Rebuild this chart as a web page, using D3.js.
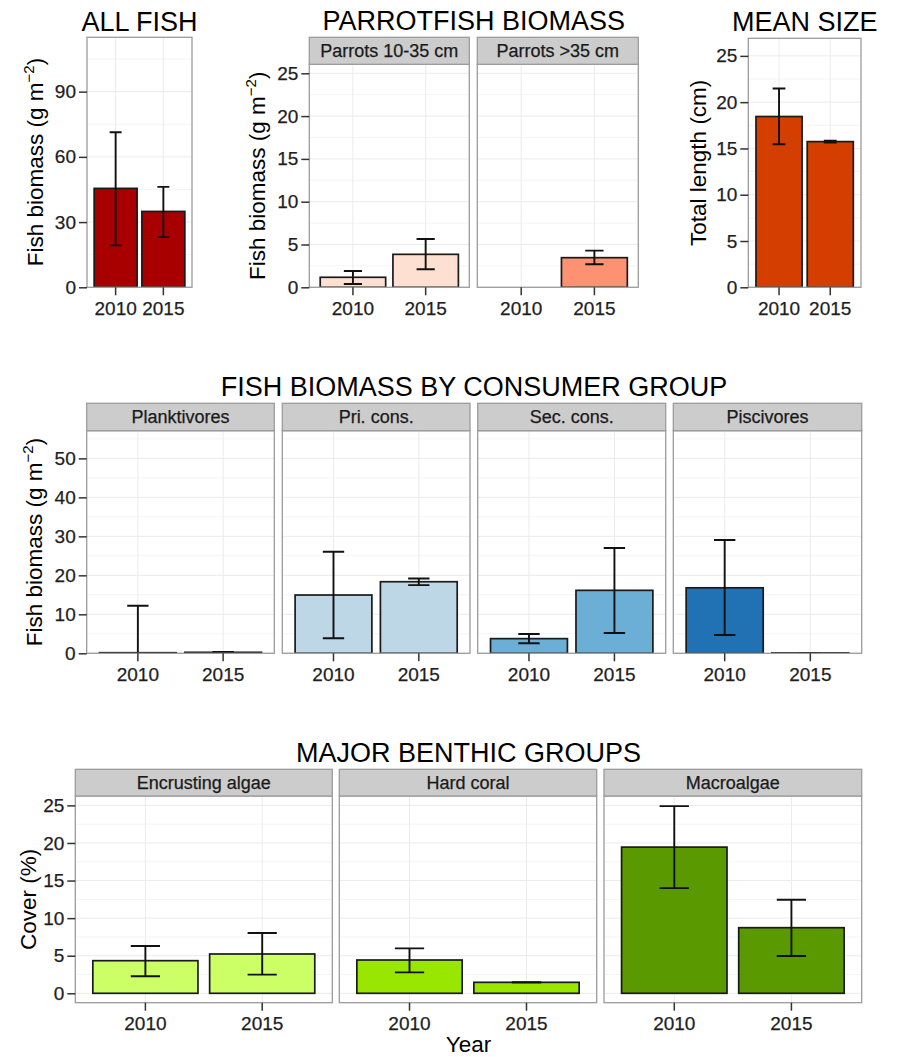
<!DOCTYPE html>
<html>
<head>
<meta charset="utf-8">
<script src="https://cdn.jsdelivr.net/npm/d3@7/dist/d3.min.js"></script>
<style>
  html, body { margin: 0; padding: 0; background: #ffffff; }
  svg { display: block; font-family: "Liberation Sans", Arial, Helvetica, sans-serif; }
</style>
</head>
<body>
<svg id="chart" width="897" height="1057"></svg>
<script>
// ---------------- DATA ----------------
const years = ["2010", "2015"];

// ALL FISH (g m-2)
const allFishMean = [45.5, 34.9];
const allFishLow  = [19.3, 23.1];
const allFishHigh = [71.3, 46.2];

// PARROTFISH BIOMASS
const parrotGroups = ["Parrots 10-35 cm", "Parrots >35 cm"];
const parrotMean = [[1.17, 3.85], [0, 3.46]];
const parrotLow  = [[0.39, 2.1], [0, 2.69]];
const parrotHigh = [[1.9, 5.64], [0, 4.28]];

// MEAN SIZE (cm)
const sizeMean = [18.45, 15.74];
const sizeLow  = [15.46, 15.63];
const sizeHigh = [21.47, 15.85];

// FISH BIOMASS BY CONSUMER GROUP
const consumerGroups = ["Planktivores", "Pri. cons.", "Sec. cons.", "Piscivores"];
const consumerMean = [[0.15, 0.25], [14.95, 18.36], [3.76, 16.15], [16.8, 0.1]];
const consumerLow  = [[-11.9, 0.15], [3.85, 17.5], [2.56, 5.2], [4.7, 0.1]];
const consumerHigh = [[12.2, 0.35], [26.05, 19.2], [4.96, 27.0], [29.05, 0.1]];

// MAJOR BENTHIC GROUPS (% cover)
const benthicGroups = ["Encrusting algae", "Hard coral", "Macroalgae"];
const benthicMean = [[4.34, 5.23], [4.43, 1.46], [19.45, 8.73]];
const benthicLow  = [[2.26, 2.48], [2.79, 1.46], [14.0, 4.96]];
const benthicHigh = [[6.29, 8.02], [5.98, 1.46], [24.9, 12.45]];

// tick labels
const allFishTicks = [0, 30, 60, 90];
const parrotTicks = [0, 5, 10, 15, 20, 25];
const sizeTicks = [0, 5, 10, 15, 20, 25];
const consumerTicks = [0, 10, 20, 30, 40, 50];
const benthicTicks = [0, 5, 10, 15, 20, 25];

// colours
const allFishColor = "#A80000";
const parrotColors = ["#FEE0D2", "#FC9272"];
const sizeColor = "#D43F00";
const consumerColors = ["#EFF3FF", "#BDD7E7", "#6BAED6", "#2171B5"];
const benthicColors = ["#CCFF66", "#99E600", "#5A9900"];

// ---------------- DRAWING ----------------
const svg = d3.select("#chart");
svg.append("rect").attr("width", 897).attr("height", 1057).attr("fill", "#fff");

const BORDER = "#9c9c9c";
let clipId = 0;

function minorOf(ticks, domain) {
  const step = ticks[1] - ticks[0];
  const out = [];
  for (let i = 0; i <= ticks.length; i++) {
    const v = ticks[0] + step * (i - 0.5);
    if (v > domain[0] && v < domain[1]) out.push(v);
  }
  return out;
}

function panel(o) {
  const g = svg.append("g");
  const y = d3.scaleLinear().domain(o.domain).range([o.bottom, o.top]);
  const x = d3.scaleBand().domain(years).range([o.left, o.right])
    .paddingInner(0.1).paddingOuter(0.15);
  const step = x.step();

  g.append("rect").attr("x", o.left).attr("y", o.top)
    .attr("width", o.right - o.left).attr("height", o.bottom - o.top)
    .attr("fill", "#fff");

  g.selectAll(".minor").data(minorOf(o.ticks, o.domain)).join("line")
    .attr("x1", o.left).attr("x2", o.right)
    .attr("y1", d => y(d)).attr("y2", d => y(d))
    .attr("stroke", "#f4f4f4").attr("stroke-width", 1);
  g.selectAll(".major").data(o.ticks.filter(t => t >= o.domain[0] && t <= o.domain[1])).join("line")
    .attr("x1", o.left).attr("x2", o.right)
    .attr("y1", d => y(d)).attr("y2", d => y(d))
    .attr("stroke", "#ebebeb").attr("stroke-width", 1);
  g.selectAll(".vmajor").data(years).join("line")
    .attr("x1", d => x(d) + x.bandwidth() / 2).attr("x2", d => x(d) + x.bandwidth() / 2)
    .attr("y1", o.top).attr("y2", o.bottom)
    .attr("stroke", "#ebebeb").attr("stroke-width", 1);

  const id = "clip" + (clipId++);
  g.append("clipPath").attr("id", id).append("rect")
    .attr("x", o.left).attr("y", o.top)
    .attr("width", o.right - o.left).attr("height", o.bottom - o.top);
  const data = years.map((yr, i) => ({ yr, m: o.mean[i], lo: o.low[i], hi: o.high[i] }));
  const marks = g.append("g").attr("clip-path", `url(#${id})`);

  marks.selectAll(".bar").data(data.filter(d => d.m > 0)).join("rect")
    .attr("x", d => x(d.yr)).attr("width", x.bandwidth())
    .attr("y", d => y(d.m)).attr("height", d => y(0) - y(d.m))
    .attr("fill", o.fill).attr("stroke", "#1a1a1a").attr("stroke-width", 1.7);

  const eb = marks.selectAll(".eb").data(data.filter(d => d.hi > 0)).join("g")
    .attr("stroke", "#111").attr("stroke-width", 1.9).attr("fill", "none");
  const cx = d => x(d.yr) + x.bandwidth() / 2;
  eb.append("line").attr("x1", cx).attr("x2", cx)
    .attr("y1", d => y(d.lo)).attr("y2", d => y(d.hi));
  eb.append("line").attr("x1", d => cx(d) - step * 0.125).attr("x2", d => cx(d) + step * 0.125)
    .attr("y1", d => y(d.hi)).attr("y2", d => y(d.hi));
  eb.append("line").attr("x1", d => cx(d) - step * 0.125).attr("x2", d => cx(d) + step * 0.125)
    .attr("y1", d => y(d.lo)).attr("y2", d => y(d.lo));

  g.append("rect").attr("x", o.left).attr("y", o.top)
    .attr("width", o.right - o.left).attr("height", o.bottom - o.top)
    .attr("fill", "none").attr("stroke", BORDER).attr("stroke-width", 1.3);

  if (o.strip) {
    g.append("rect").attr("x", o.left).attr("y", o.stripTop)
      .attr("width", o.right - o.left).attr("height", o.top - o.stripTop)
      .attr("fill", "#cccccc").attr("stroke", BORDER).attr("stroke-width", 1.3);
    g.append("text").attr("x", (o.left + o.right) / 2).attr("y", (o.stripTop + o.top) / 2)
      .attr("dy", "0.36em").attr("text-anchor", "middle")
      .attr("font-size", 18).attr("fill", "#1a1a1a")
      .attr("stroke", "#1a1a1a").attr("stroke-width", 0.25).text(o.strip);
  }

  const xa = g.append("g").attr("transform", `translate(0,${o.bottom})`)
    .call(d3.axisBottom(x).tickSize(8).tickPadding(6));
  styleAxis(xa);
  if (o.showY) {
    const ya = g.append("g").attr("transform", `translate(${o.left},0)`)
      .call(d3.axisLeft(y).tickValues(o.ticks).tickSize(8).tickPadding(3).tickFormat(d3.format("d")));
    styleAxis(ya);
  }
}

function styleAxis(a) {
  a.select(".domain").remove();
  a.selectAll(".tick line").attr("stroke", "#333").attr("stroke-width", 1.5);
  a.selectAll(".tick text").attr("font-size", 19).attr("fill", "#1e1e1e")
    .attr("stroke", "#1e1e1e").attr("stroke-width", 0.25)
    .attr("font-family", "Liberation Sans, Arial, sans-serif");
}

function title(txt, x, y) {
  svg.append("text").attr("x", x).attr("y", y).attr("text-anchor", "middle")
    .attr("font-size", 27).attr("fill", "#000").text(txt);
}

function yLabel(x, y, main, sup, tail) {
  const t = svg.append("text").attr("transform", `translate(${x},${y}) rotate(-90)`)
    .attr("text-anchor", "middle").attr("font-size", 22.5).attr("fill", "#000");
  t.append("tspan").text(main);
  if (sup) {
    t.append("tspan").attr("font-size", 15).attr("dy", -9).text(sup);
    t.append("tspan").attr("dy", 9).text(tail);
  }
}

// ---- Row 1 ----
title("ALL FISH", 139.5, 31);
panel({ left: 87, right: 192, top: 37.3, bottom: 287.3, domain: [0, 115], ticks: allFishTicks,
  showY: true, mean: allFishMean, low: allFishLow, high: allFishHigh, fill: allFishColor });
yLabel(42.5, 162, "Fish biomass (g m", "\u22122", ")");

title("PARROTFISH BIOMASS", 473.8, 30);
const parrotX = [[309.3, 469.3], [477.3, 638.3]];
parrotGroups.forEach((gname, i) => {
  panel({ left: parrotX[i][0], right: parrotX[i][1], top: 64.3, bottom: 287.3, stripTop: 37.3,
    strip: gname, domain: [0, 26.05], ticks: parrotTicks, showY: i === 0,
    mean: parrotMean[i], low: parrotLow[i], high: parrotHigh[i], fill: parrotColors[i] });
});
yLabel(265, 175.8, "Fish biomass (g m", "\u22122", ")");

title("MEAN SIZE", 804.7, 31);
panel({ left: 748.3, right: 861, top: 38.3, bottom: 287.3, domain: [0, 26.9], ticks: sizeTicks,
  showY: true, mean: sizeMean, low: sizeLow, high: sizeHigh, fill: sizeColor });
yLabel(705.7, 162.8, "Total length (cm)");

// ---- Row 2 ----
title("FISH BIOMASS BY CONSUMER GROUP", 474, 395.7);
const consX = [[86.7, 274.3], [282.3, 470], [477.7, 665.7], [673.3, 861.7]];
consumerGroups.forEach((gname, i) => {
  panel({ left: consX[i][0], right: consX[i][1], top: 430.7, bottom: 653.3, stripTop: 403.3,
    strip: gname, domain: [0, 57.1], ticks: consumerTicks, showY: i === 0,
    mean: consumerMean[i], low: consumerLow[i], high: consumerHigh[i], fill: consumerColors[i] });
});
yLabel(41.7, 542, "Fish biomass (g m", "\u22122", ")");

// ---- Row 3 ----
title("MAJOR BENTHIC GROUPS", 468.5, 762.3);
const benX = [[75.3, 332.3], [339.3, 596.7], [604, 861.7]];
benthicGroups.forEach((gname, i) => {
  panel({ left: benX[i][0], right: benX[i][1], top: 796, bottom: 1002.7, stripTop: 769.3,
    strip: gname, domain: [-1.25, 26.25], ticks: benthicTicks, showY: i === 0,
    mean: benthicMean[i], low: benthicLow[i], high: benthicHigh[i], fill: benthicColors[i] });
});
yLabel(36, 899.3, "Cover (%)");
svg.append("text").attr("x", 468.5).attr("y", 1052).attr("text-anchor", "middle")
  .attr("font-size", 22.5).attr("fill", "#000").text("Year");
</script>
</body>
</html>
